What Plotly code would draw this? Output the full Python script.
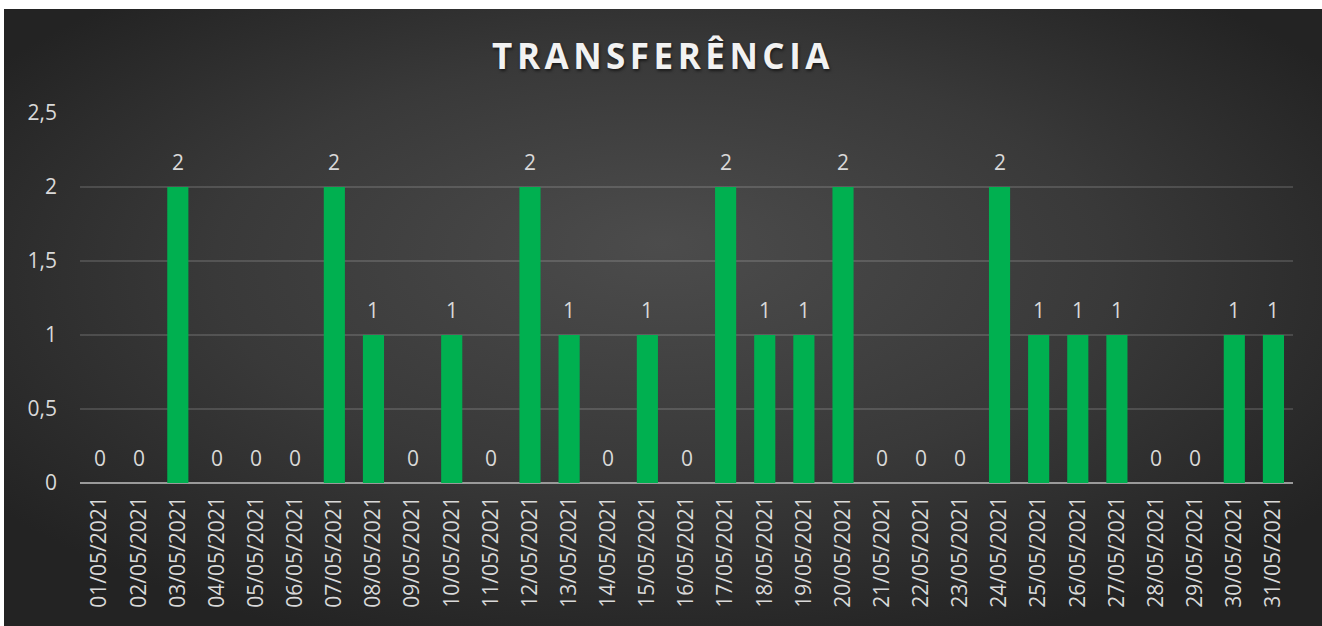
import base64
import plotly.graph_objects as go

dates = [f"{d:02d}/05/2021" for d in range(1, 32)]
values = [0, 0, 2, 0, 0, 0, 2, 1, 0, 1, 0, 2, 1, 0, 1, 0, 2, 1, 1, 2,
          0, 0, 0, 2, 1, 1, 1, 0, 0, 1, 1]
y_ticks = [0, 0.5, 1, 1.5, 2, 2.5]
title_text = "TRANSFERÊNCIA"

W, H = 1322, 626
ML, MR, MT, MB = 80, 29, 113, 143
PW, PH = W - ML - MR, H - MT - MB
# dark chart area (px): x 4..1322, y 9..626
BX0, BY0 = 4, 9

svg = f'''<svg xmlns="http://www.w3.org/2000/svg" width="{W-BX0}" height="{H-BY0}" viewBox="0 0 100 100" preserveAspectRatio="none">
<defs><radialGradient id="g" cx="50%" cy="45%" r="62%" fx="50%" fy="38%">
<stop offset="0%" stop-color="#4c4c4c"/>
<stop offset="55%" stop-color="#393939"/>
<stop offset="100%" stop-color="#232323"/>
</radialGradient></defs>
<rect x="0" y="0" width="100" height="100" fill="url(#g)"/></svg>'''
src = "data:image/svg+xml;base64," + base64.b64encode(svg.encode()).decode()

LBL = "#d9d9d9"
FS = 21

fig = go.Figure()
fig.add_trace(go.Bar(
    x=dates, y=values,
    marker=dict(color="#00B050", line=dict(width=0)),
    hoverinfo="x+y",
))

for d, v in zip(dates, values):
    fig.add_annotation(x=d, y=v, text=str(v), showarrow=False, yshift=25,
                       font=dict(family="Open Sans", size=FS, color=LBL))

fig.update_layout(
    width=W, height=H,
    margin=dict(l=ML, r=MR, t=MT, b=MB),
    paper_bgcolor="white",
    plot_bgcolor="rgba(0,0,0,0)",
    separators=",.",
    bargap=0.46,
    showlegend=False,
    title=dict(text=f'<span style="letter-spacing:4.5px">{title_text}</span>',
               x=663 / W, xanchor="center", xref="container",
               y=1 - 57 / H, yanchor="middle", yref="container",
               font=dict(family="Open Sans", size=35, color="#f2f2f2", weight="bold",
                         shadow="1px 2px 3px rgba(0,0,0,0.55)")),
    font=dict(family="Open Sans", color=LBL, size=FS),
    images=[dict(source=src, xref="paper", yref="paper",
                 x=(BX0 - ML) / PW, y=(H - MB - BY0) / PH,
                 sizex=(W - BX0) / PW, sizey=(H - BY0) / PH,
                 xanchor="left", yanchor="top", sizing="stretch", layer="below")],
    xaxis=dict(type="category", tickangle=-90, showgrid=False, ticks="",
               tickfont=dict(family="Open Sans", size=FS, color=LBL),
               ticklabelstandoff=8, showline=False, zeroline=False),
    yaxis=dict(range=[0, 2.5], tickvals=y_ticks, showgrid=True,
               gridcolor="rgba(255,255,255,0.14)", gridwidth=2,
               zeroline=True, zerolinecolor="#9a9a9a", zerolinewidth=2,
               tickfont=dict(family="Open Sans", size=FS, color=LBL),
               ticklabelstandoff=22, ticks=""),
)

fig.write_html("out.html", config={"displayModeBar": False},
               post_script="document.body.style.margin='0';document.body.style.overflow='hidden';")
